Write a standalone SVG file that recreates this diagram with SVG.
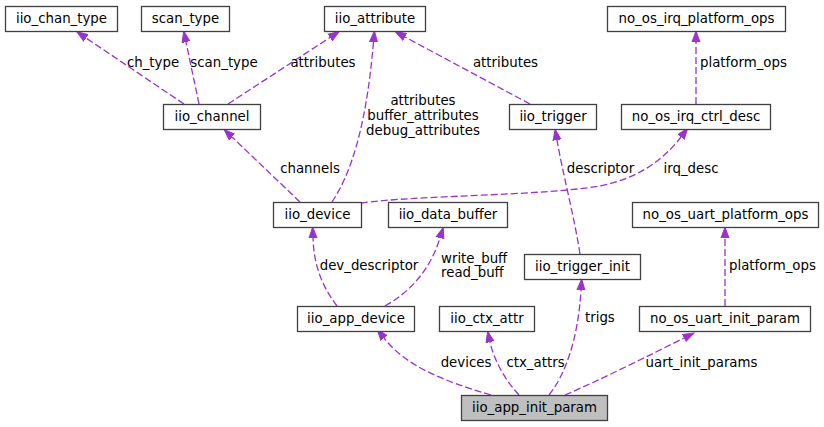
<svg xmlns="http://www.w3.org/2000/svg" width="824" height="427" viewBox="0 0 824 427">
<style>
.n rect{fill:#ffffff;stroke:#404040;stroke-width:1.3}
.n.hl rect{fill:#bfbfbf}
text{font-family:"DejaVu Sans",sans-serif;font-size:13.33px;fill:#000000}
.n text{text-anchor:middle}
.e path{fill:none;stroke:#9a32cd;stroke-width:1.3;stroke-dasharray:7,3}
.lc{text-anchor:middle}
</style>
<defs>
<marker id="ah" markerUnits="userSpaceOnUse" markerWidth="12" markerHeight="10" refX="0" refY="4.5" orient="auto" viewBox="0 0 12 9">
<path d="M0,0.5 L11,4.5 L0,8.5 Z" fill="#9a32cd" stroke="#9a32cd" stroke-width="1"/>
</marker>
</defs>
<rect width="824" height="427" fill="#ffffff"/>
<g id="connectors" class="e">
<path d="M184,104 L86,38" marker-end="url(#ah)"/>
<path d="M199,104 L186,42" marker-end="url(#ah)"/>
<path d="M228,104 L330,37.5" marker-end="url(#ah)"/>
<path d="M530,104 L405,37" marker-end="url(#ah)"/>
<path d="M332,202 C350,175 366,130 373.5,42" marker-end="url(#ah)"/>
<path d="M300,202 L232,137" marker-end="url(#ah)"/>
<path d="M361,203 C420,195 540,196 600,186 C640,178 665,158 681,137" marker-end="url(#ah)"/>
<path d="M696,104 L696,42" marker-end="url(#ah)"/>
<path d="M580,254 C574,215 563,175 557,140" marker-end="url(#ah)"/>
<path d="M337,306 C325,290 314,270 313,238" marker-end="url(#ah)"/>
<path d="M385,306 C410,292 430,270 440,238" marker-end="url(#ah)"/>
<path d="M725,306 L725,238" marker-end="url(#ah)"/>
<path d="M491,395 C440,380 405,365 384,338" marker-end="url(#ah)"/>
<path d="M519,395 C505,380 494,360 490,342" marker-end="url(#ah)"/>
<path d="M549,395 C565,375 578,340 581,290" marker-end="url(#ah)"/>
<path d="M565,395 C600,380 650,355 684,338" marker-end="url(#ah)"/>
</g>
<g id="labels">
<text class="lc" x="153" y="67">ch_type</text>
<text class="lc" x="224" y="67">scan_type</text>
<text class="lc" x="323" y="67">attributes</text>
<text class="lc" x="505.5" y="67">attributes</text>
<text x="700" y="67">platform_ops</text>
<text class="lc" x="423" y="105">attributes</text>
<text class="lc" x="423" y="120">buffer_attributes</text>
<text class="lc" x="423" y="135">debug_attributes</text>
<text class="lc" x="310" y="172.5">channels</text>
<text class="lc" x="600.5" y="172.5">descriptor</text>
<text class="lc" x="691" y="172.5">irq_desc</text>
<text class="lc" x="369" y="270">dev_descriptor</text>
<text x="441" y="262.5">write_buff</text>
<text x="441" y="276.5">read_buff</text>
<text x="729" y="270">platform_ops</text>
<text x="585" y="321.5">trigs</text>
<text class="lc" x="466" y="367">devices</text>
<text class="lc" x="535.5" y="367">ctx_attrs</text>
<text class="lc" x="701.5" y="367">uart_init_params</text>
</g>
<g id="iio_chan_type" class="n"><rect x="5.5" y="6.5" width="112" height="25"/><text x="61.5" y="22.5">iio_chan_type</text></g>
<g id="scan_type" class="n"><rect x="141.5" y="6.5" width="88" height="25"/><text x="185.5" y="22.5">scan_type</text></g>
<g id="iio_attribute" class="n"><rect x="324.5" y="6.5" width="101" height="25"/><text x="375" y="22.5">iio_attribute</text></g>
<g id="no_os_irq_platform_ops" class="n"><rect x="607.5" y="6.5" width="178" height="25"/><text x="696.5" y="22.5">no_os_irq_platform_ops</text></g>
<g id="iio_channel" class="n"><rect x="163.5" y="104.5" width="97" height="25"/><text x="212" y="120.5">iio_channel</text></g>
<g id="iio_trigger" class="n"><rect x="509.5" y="104.5" width="87" height="25"/><text x="553" y="120.5">iio_trigger</text></g>
<g id="no_os_irq_ctrl_desc" class="n"><rect x="621.5" y="104.5" width="149" height="25"/><text x="696" y="120.5">no_os_irq_ctrl_desc</text></g>
<g id="iio_device" class="n"><rect x="273.5" y="202.5" width="88" height="25"/><text x="317.5" y="218.5">iio_device</text></g>
<g id="iio_data_buffer" class="n"><rect x="388.5" y="202.5" width="119" height="25"/><text x="448" y="218.5">iio_data_buffer</text></g>
<g id="no_os_uart_platform_ops" class="n"><rect x="632.5" y="202.5" width="186" height="25"/><text x="725.5" y="218.5">no_os_uart_platform_ops</text></g>
<g id="iio_trigger_init" class="n"><rect x="524.5" y="254.5" width="116" height="25"/><text x="582.5" y="270.5">iio_trigger_init</text></g>
<g id="iio_app_device" class="n"><rect x="297.5" y="306.5" width="117" height="25"/><text x="356" y="322.5">iio_app_device</text></g>
<g id="iio_ctx_attr" class="n"><rect x="439.5" y="306.5" width="95" height="25"/><text x="487" y="322.5">iio_ctx_attr</text></g>
<g id="no_os_uart_init_param" class="n"><rect x="639.5" y="306.5" width="171" height="25"/><text x="725" y="322.5">no_os_uart_init_param</text></g>
<g id="iio_app_init_param" class="n hl"><rect x="461.5" y="395.5" width="146" height="25"/><text x="534.5" y="411.5">iio_app_init_param</text></g>
</svg>
